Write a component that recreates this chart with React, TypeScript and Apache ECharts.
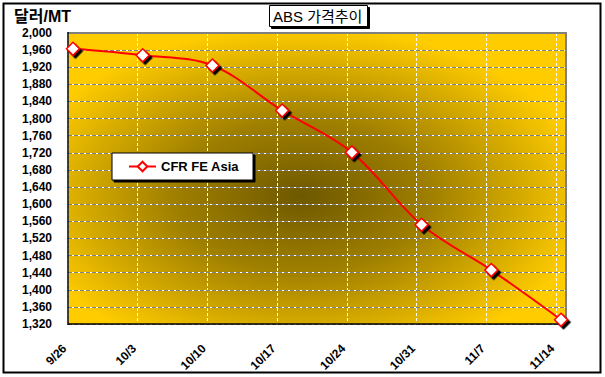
import React, { useEffect, useRef } from "react";
import * as echarts from "echarts";

const DATES = ["9/26", "10/3", "10/10", "10/17", "10/24", "10/31", "11/7", "11/14"];
const PRICES = [1963, 1948, 1924, 1819, 1721, 1552, 1446, 1330];
const DAYS_PER_STEP = 7;
const X_MAX_DAYS = 50;
const Y_MIN = 1320;
const Y_MAX = 2000;
const Y_STEP = 40;
const SERIES_NAME = "CFR FE Asia";
const TITLE = "ABS 가격추이";
const Y_UNIT = "달러/MT";

const W = 605;
const H = 377;
const GRID = { left: 68, top: 33, right: 39, bottom: 53 };
const FONT = "'Liberation Sans', Arial, 'Noto Sans CJK KR', sans-serif";

export default function App() {
  const ref = useRef<HTMLDivElement>(null);
  useEffect(() => {
    if (!ref.current) return;
    const chart = echarts.init(ref.current, null, { renderer: "svg" });
    const pl = GRID.left;
    const pr = W - GRID.right;
    const pt = GRID.top;
    const pb = H - GRID.bottom;
    const data = PRICES.map((p, i) => [i * DAYS_PER_STEP + 0.5, p]);
    chart.setOption({
      animation: false,
      backgroundColor: "#ffffff",
      title: {
        text: TITLE,
        left: 269,
        top: 5,
        padding: [4, 5, 3, 4],
        backgroundColor: "#ffffff",
        borderColor: "#000000",
        borderWidth: 1,
        shadowColor: "#000000",
        shadowBlur: 0,
        shadowOffsetX: 2,
        shadowOffsetY: 2,
        textStyle: { fontFamily: FONT, fontSize: 15, fontWeight: "normal", color: "#000" },
      },
      legend: {
        left: 112,
        top: 153,
        orient: "vertical",
        padding: [7, 14, 7, 16],
        backgroundColor: "#ffffff",
        borderColor: "#000000",
        borderWidth: 1,
        shadowColor: "#000000",
        shadowBlur: 0,
        shadowOffsetX: 2,
        shadowOffsetY: 2,
        itemWidth: 27,
        itemHeight: 12,
        itemStyle: { shadowBlur: 0, shadowOffsetX: 0, shadowOffsetY: 0, shadowColor: "transparent" },
        textStyle: { fontFamily: FONT, fontSize: 13, fontWeight: "bold", color: "#000" },
        data: [SERIES_NAME],
      },
      grid: {
        left: GRID.left,
        top: GRID.top,
        right: GRID.right,
        bottom: GRID.bottom,
        show: true,
        borderWidth: 0,
        backgroundColor: new echarts.graphic.RadialGradient(0.47, 0.56, 0.58, [
          { offset: 0, color: "#6e5800" },
          { offset: 0.45, color: "#a08000" },
          { offset: 1, color: "#ffcc00" },
        ]),
      },
      xAxis: {
        type: "value",
        min: 0,
        max: X_MAX_DAYS,
        interval: DAYS_PER_STEP,
        axisLine: { show: false },
        axisTick: { show: false },
        axisLabel: {
          rotate: 45,
          margin: 19,
          padding: [0, 5, 0, 0],
          fontFamily: FONT,
          fontSize: 12,
          fontWeight: "bold",
          color: "#000",
          formatter: (v: number) => {
            const i = v / DAYS_PER_STEP;
            return Number.isInteger(i) && DATES[i] ? DATES[i] : "";
          },
        },
        splitLine: { show: true, lineStyle: { color: "#ffffff", width: 1, type: [3, 2] } },
      },
      yAxis: [
        {
          type: "value",
          min: Y_MIN,
          max: Y_MAX,
          interval: Y_STEP,
          z: 0,
          axisLine: { show: false },
          axisTick: { show: false },
          axisLabel: {
            margin: 16,
            fontFamily: FONT,
            fontSize: 12,
            fontWeight: "bold",
            color: "#000",
          },
          splitLine: { show: true, lineStyle: { color: "#ffffff", width: 1, type: "solid" } },
        },
        {
          type: "value",
          min: Y_MIN,
          max: Y_MAX,
          interval: Y_STEP,
          z: 1,
          position: "left",
          axisLine: { show: false },
          axisTick: { show: false },
          axisLabel: { show: false },
          splitLine: { show: true, lineStyle: { color: "#808080", width: 1, type: [4, 2] } },
        },
      ],
      graphic: [
        {
          type: "rect",
          z: 10,
          shape: { x: 3.5, y: 3.5, width: 597, height: 369 },
          style: { fill: "none", stroke: "#000", lineWidth: 2 },
        },
        {
          type: "text",
          z: 10,
          left: 14,
          top: 8,
          style: { text: Y_UNIT, font: `bold 16px ${FONT}`, fill: "#000" },
        },
        {
          type: "line",
          z: 3,
          shape: { x1: pl, y1: pt, x2: pr + 1, y2: pt },
          style: { stroke: "#808080", lineWidth: 2 },
        },
        {
          type: "line",
          z: 3,
          shape: { x1: pr, y1: pt, x2: pr, y2: pb },
          style: { stroke: "#808080", lineWidth: 2 },
        },
        {
          type: "line",
          z: 3,
          shape: { x1: pl, y1: pt - 1, x2: pl, y2: pb + 1 },
          style: { stroke: "#000", lineWidth: 1.5 },
        },
        {
          type: "line",
          z: 3,
          shape: { x1: pl, y1: pb, x2: pr + 1, y2: pb },
          style: { stroke: "#000", lineWidth: 1.5 },
        },
      ],
      series: [
        {
          name: SERIES_NAME,
          type: "line",
          z: 5,
          smooth: 0.35,
          data,
          symbol: "diamond",
          symbolSize: 13,
          lineStyle: { color: "#ff0000", width: 2 },
          itemStyle: {
            color: "#ffffff",
            borderColor: "#ff0000",
            borderWidth: 1.5,
            shadowColor: "#000000",
            shadowBlur: 0,
            shadowOffsetX: 2.5,
            shadowOffsetY: 2.5,
          },
        },
      ],
    });
    return () => chart.dispose();
  }, []);
  return (
    <div
      ref={ref}
      style={{ position: "fixed", left: 0, top: 0, width: W, height: H }}
    />
  );
}
